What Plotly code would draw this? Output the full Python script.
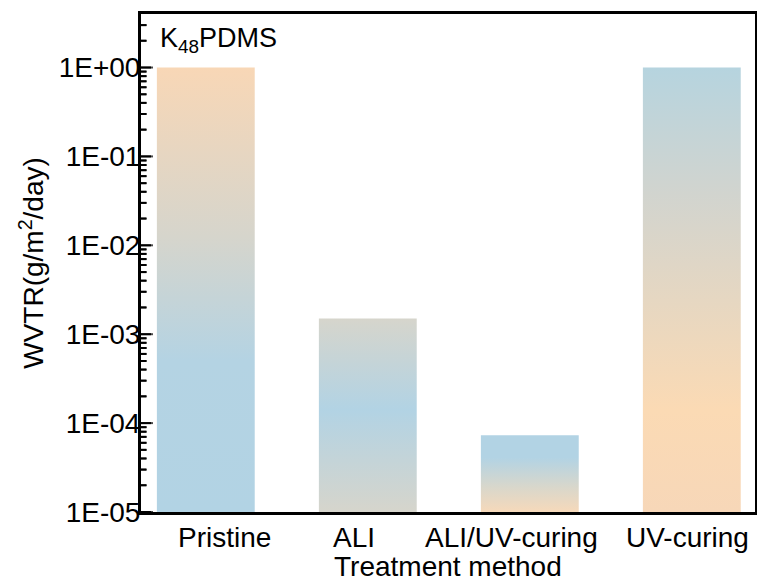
import plotly.graph_objects as go

# ---- data ----
categories = ["Pristine", "ALI", "ALI/UV-curing", "UV-curing"]
wvtr = [1.0, 1.5e-3, 7.3e-5, 1.0]
y_floor = 1e-5
y_top = 4.0
ytick_vals = [1e-5, 1e-4, 1e-3, 1e-2, 1e-1, 1e0]
ytick_text = ["1E-05", "1E-04", "1E-03", "1E-02", "1E-01", "1E+00"]
minor_digits = [2, 3, 4, 5, 6, 7, 8, 9]

# ---- styles ----  (colorscale 0 = bottom of bar, 1 = top)
W, H = 757, 581
ML, MR, MT, MB = 141, 2, 14, 69
PLOT_W = W - ML - MR
X_RANGE = [-0.4, 3.39]
bar_half_width = 0.302
label_xshift = [19, -14, -18, -4]
MAJOR_LEN, MINOR_LEN = 10, 5
ORANGE = "#F8D7B6"
GREY = "#D6D5CC"
BLUE = "#B2D3E4"
gradients_top_down = [
    [(0, ORANGE), (0.38, GREY), (0.66, "#B4D3E3"), (1, BLUE)],
    [(0, GREY), (0.47, BLUE), (1, GREY)],
    [(0, BLUE), (0.29, BLUE), (0.68, "#D9D7CB"), (1, "#F6D9BA")],
    [(0, "#B6D4DF"), (0.28, "#D1D4CF"), (0.77, "#FBDAB4"), (1, "#F7D7B8")],
]
gradients = [sorted([(1 - t, c) for t, c in g]) for g in gradients_top_down]
FONT = "Liberation Sans, Arial, sans-serif"
FS = 28

fig = go.Figure()
for i, (cat, v) in enumerate(zip(categories, wvtr)):
    x0, x1 = i - bar_half_width, i + bar_half_width
    fig.add_trace(go.Scatter(
        x=[x0, x1, x1, x0, x0],
        y=[y_floor, y_floor, v, v, y_floor],
        mode="lines",
        line=dict(width=0),
        fill="toself",
        fillgradient=dict(type="vertical", colorscale=gradients[i]),
        name=cat,
        showlegend=False,
        hoverinfo="skip",
    ))

# inside tick marks on the log y axis
px_to_x = (X_RANGE[1] - X_RANGE[0]) / PLOT_W
tick_pos, tick_len = [], []
for v in ytick_vals:
    tick_pos.append(v)
    tick_len.append(MAJOR_LEN)
    for d in minor_digits:
        if d * v < y_top:
            tick_pos.append(d * v)
            tick_len.append(MINOR_LEN)

shapes = []
for pos, ln in zip(tick_pos, tick_len):
    shapes.append(dict(
        type="line", xref="paper", xsizemode="pixel", xanchor=0,
        x0=0, x1=ln, yref="y", y0=pos, y1=pos,
        line=dict(color="black", width=2), layer="above",
    ))

fig.add_trace(go.Scatter(
    x=[X_RANGE[0] + (ln / 2) * px_to_x for ln in tick_len],
    y=tick_pos,
    mode="markers",
    marker=dict(symbol="line-ew", size=tick_len,
                line=dict(color="black", width=2)),
    cliponaxis=False, showlegend=False, hoverinfo="skip",
))

annotations = [dict(
    text="K<sub>48</sub>PDMS", xref="paper", yref="paper",
    x=0.028, y=0.985, xanchor="left", yanchor="top",
    showarrow=False, font=dict(size=27, color="black"),
)]
for i, cat in enumerate(categories):
    annotations.append(dict(
        text=cat, xref="x", yref="paper", x=i, y=0,
        xanchor="center", yanchor="top", xshift=label_xshift[i], yshift=-8,
        showarrow=False, font=dict(size=FS, color="black"),
    ))
annotations.append(dict(
    text="Treatment method", xref="paper", yref="paper", x=0.5, y=0,
    xanchor="center", yanchor="top", yshift=-37,
    showarrow=False, font=dict(size=FS, color="black"),
))

fig.update_layout(
    template="none",
    width=W, height=H,
    margin=dict(l=ML, r=MR, t=MT, b=MB),
    paper_bgcolor="white", plot_bgcolor="white",
    font=dict(family=FONT, size=FS, color="black"),
    showlegend=False,
    xaxis=dict(
        range=X_RANGE,
        showticklabels=False, ticks="", showgrid=False, zeroline=False,
        showline=True, linecolor="black", linewidth=3, mirror=True,
    ),
    yaxis=dict(
        type="log",
        range=[-5, 0.602],
        tickmode="array", tickvals=ytick_vals, ticktext=ytick_text,
        ticks="", showgrid=False, zeroline=False,
        showline=True, linecolor="black", linewidth=3, mirror=True,
        tickfont=dict(size=FS),
        ticklabelstandoff=-8,
        title=dict(text="WVTR(g/m<sup>2</sup>/day)", font=dict(size=FS), standoff=7),
    ),
    shapes=shapes,
    annotations=annotations,
)

fig.write_html("out.html")
